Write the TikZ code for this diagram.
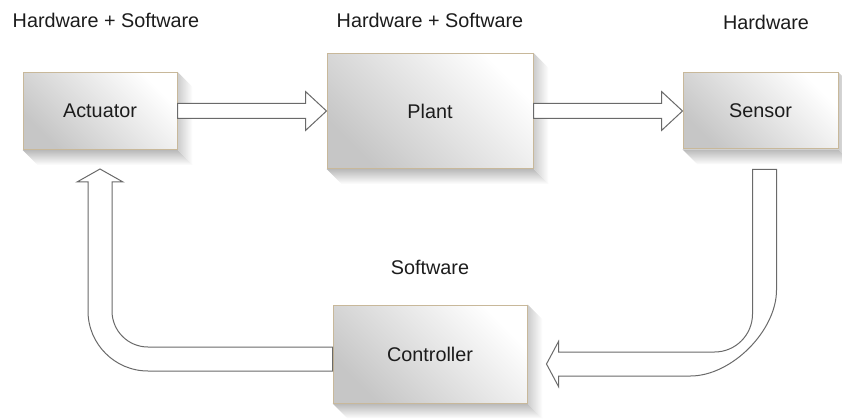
\documentclass[tikz,border=0pt]{standalone}
\usepackage{fontspec}
\setmainfont{Liberation Sans}
\usetikzlibrary{calc,backgrounds}
\definecolor{boxedge}{HTML}{C8B89A}
\definecolor{arrowedge}{HTML}{6A6A6A}
\definecolor{inktext}{HTML}{1C1C1C}
\begin{document}
\begin{tikzpicture}[x=1pt,y=-1pt,
  every node/.style={font=\fontsize{19.8pt}{24pt}\selectfont, text=inktext, inner sep=0pt},
  block/.style={draw=boxedge, line width=1pt, top color=white, bottom color=gray!45, shading angle=-45},
  blockarrow/.style={draw=arrowedge, fill=white, line width=1pt, line join=miter},
  caption/.style={}]
\useasboundingbox (0,0) rectangle (842,419);

% blocks
\node[block, minimum width=154pt, minimum height=77pt] (act) at (100,111) {Actuator};
\node[block, minimum width=206pt, minimum height=115pt] (plant) at (430,111) {Plant};
\node[block, minimum width=155pt, minimum height=76pt] (sensor) at (760.5,111) {Sensor};
\node[block, minimum width=194pt, minimum height=98pt] (ctrl) at (430,354) {Controller};

% captions
\node[caption] (capA) at (106,20) {Hardware + Software};
\node[caption] (capP) at (430,20) {Hardware + Software};
\node[caption] (capS) at (766,22) {Hardware};
\node[caption] (capC) at (430,267) {Software};

% soft drop shadows behind the blocks
\begin{scope}[on background layer]
\foreach \n in {act,plant,sensor,ctrl}{
  \shade[top color=gray!55, bottom color=white]
    (\n.south west) -- ($(\n.south west)+(15,15)$) -- ($(\n.south east)+(15,15)$) -- (\n.south east) -- cycle;
  \shade[left color=gray!40, right color=white]
    (\n.north east) -- ($(\n.north east)+(15,15)$) -- ($(\n.south east)+(15,15)$) -- (\n.south east) -- cycle;
}
\end{scope}

% Actuator -> Plant
\draw[blockarrow] ($(act.east)+(0,-7.5)$) -- ($(plant.west)+(-21,-7.5)$) -- ($(plant.west)+(-21,-19.5)$)
  -- (plant.west) -- ($(plant.west)+(-21,19.5)$) -- ($(plant.west)+(-21,7.5)$) -- ($(act.east)+(0,7.5)$) -- cycle;

% Plant -> Sensor
\draw[blockarrow] ($(plant.east)+(0,-7.5)$) -- ($(sensor.west)+(-21,-7.5)$) -- ($(sensor.west)+(-21,-19.5)$)
  -- (sensor.west) -- ($(sensor.west)+(-21,19.5)$) -- ($(sensor.west)+(-21,7.5)$) -- ($(plant.east)+(0,7.5)$) -- cycle;

% Sensor -> Controller (bent)
\path ($(sensor.south)+(4,0)$) coordinate (v3);
\path ($(ctrl.east)+(0,10)$) coordinate (h3);
\coordinate (k3) at (v3 |- h3);
\draw[blockarrow] ($(v3)+(-12,20)$) -- ($(k3)+(-12,-50)$)
  .. controls ($(k3)+(-12,-29)$) and ($(k3)+(-29,-12)$) .. ($(k3)+(-50,-12)$)
  -- ($(h3)+(31,-12)$) -- ($(h3)+(31,-22.5)$) -- ($(h3)+(19,0)$) -- ($(h3)+(31,22.5)$) -- ($(h3)+(31,12)$)
  -- ($(k3)+(-74,12)$)
  .. controls ($(k3)+(-33.1,12)$) and ($(k3)+(12,-33.1)$) .. ($(k3)+(12,-74)$)
  -- ($(v3)+(12,20)$) -- cycle;

% Controller -> Actuator (bent)
\path ($(ctrl.west)+(0,5)$) coordinate (h4);
\coordinate (k4) at (act.south |- h4);
\draw[blockarrow] ($(ctrl.west)+(0,-7)$) -- ($(k4)+(48,-12)$)
  .. controls ($(k4)+(28.1,-12)$) and ($(k4)+(12,-28.1)$) .. ($(k4)+(12,-48)$)
  -- ($(act.south)+(12,32)$) -- ($(act.south)+(23,32)$) -- ($(act.south)+(0,19)$)
  -- ($(act.south)+(-23,32)$) -- ($(act.south)+(-12,32)$)
  -- ($(k4)+(-12,-48)$)
  .. controls ($(k4)+(-12,-14.9)$) and ($(k4)+(14.9,12)$) .. ($(k4)+(48,12)$)
  -- ($(ctrl.west)+(0,17)$) -- cycle;
\end{tikzpicture}
\end{document}
